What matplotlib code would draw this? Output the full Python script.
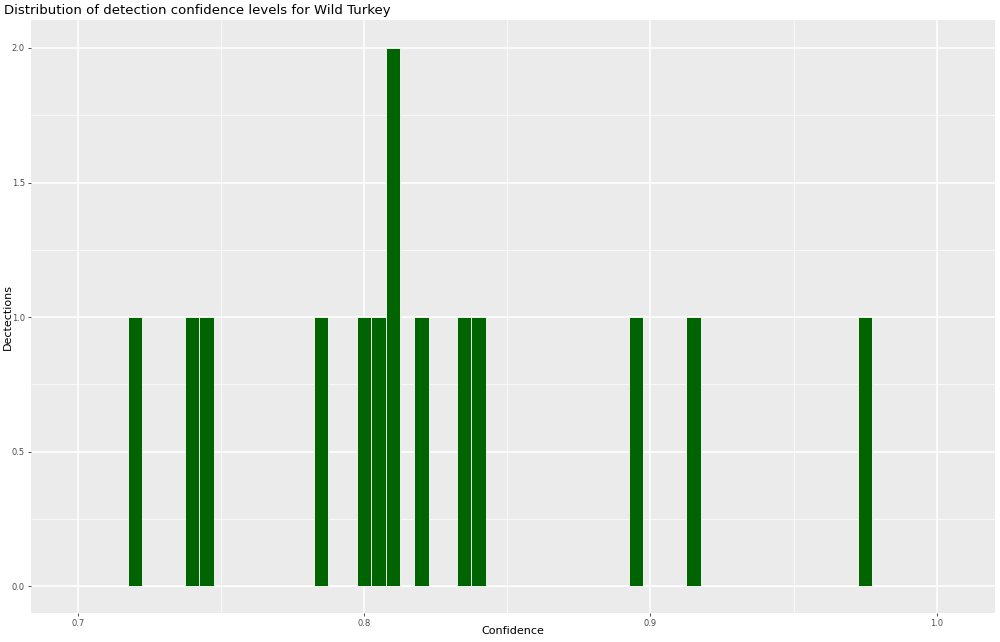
import numpy as np
import matplotlib.pyplot as plt

# detection confidences for Wild Turkey
confidence = [0.72, 0.74, 0.745, 0.785, 0.80, 0.805, 0.81, 0.81,
              0.82, 0.835, 0.84, 0.895, 0.915, 0.975]
binwidth = 0.005
x_ticks = [0.7, 0.8, 0.9, 1.0]
y_ticks = [0.0, 0.5, 1.0, 1.5, 2.0]

fig = plt.figure(figsize=(10, 6.42), dpi=100)
ax = fig.add_axes([0.031, 29 / 642, 0.964, 593 / 642])
ax.set_facecolor("#EBEBEB")

edges = np.arange(0.7 - binwidth / 2, 1.0 + binwidth, binwidth)
ax.hist(confidence, bins=edges, color="#006400", edgecolor="white",
        linewidth=0.6, zorder=3)

ax.set_xlim(0.6837, 1.0203)
ax.set_ylim(-0.1, 2.104)
ax.set_xticks(x_ticks)
ax.set_xticklabels(["0.7", "0.8", "0.9", "1.0"])
ax.set_yticks(y_ticks)
ax.set_yticklabels(["0.0", "0.5", "1.0", "1.5", "2.0"])
ax.set_xticks([0.75, 0.85, 0.95], minor=True)
ax.set_yticks([0.25, 0.75, 1.25, 1.75], minor=True)

ax.grid(which="major", color="white", linewidth=1.1, zorder=0)
ax.grid(which="minor", color="white", linewidth=0.5, zorder=0)
ax.set_axisbelow(True)
for s in ax.spines.values():
    s.set_visible(False)

ax.tick_params(which="major", length=2.5, width=0.6, color="#333333",
               labelsize=6, labelcolor="#4D4D4D", pad=2)
ax.tick_params(which="minor", length=0)

ax.set_xlabel("Confidence", fontsize=8)
ax.set_ylabel("Dectections", fontsize=8)
ax.xaxis.set_label_coords(0.5, -0.022)
ax.yaxis.set_label_coords(-0.0185, 0.5)
fig.text(0.004, 0.983, "Distribution of detection confidence levels for Wild Turkey",
         fontsize=9.5, va="center", ha="left")

fig.savefig("out.png", dpi=100)
